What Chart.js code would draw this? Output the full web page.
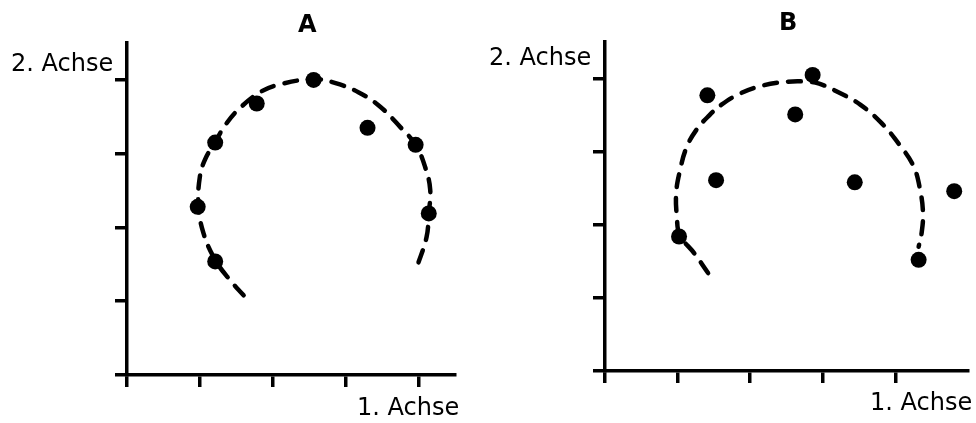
<!DOCTYPE html>
<html>
<head>
<meta charset="utf-8">
<script src="https://cdn.jsdelivr.net/npm/chart.js@4.4.0/dist/chart.umd.min.js"></script>
<style>
  html, body { margin: 0; padding: 0; background: #fff; }
  #wrap { position: relative; width: 976px; height: 423px; overflow: hidden; }
  canvas { position: absolute; top: 0; }
  .lbl { position: absolute; font-family: "DejaVu Sans", sans-serif; font-size: 24px; line-height: 24px; color: #000; white-space: nowrap; }
  .ttl { position: absolute; font-family: "DejaVu Sans", sans-serif; font-weight: bold; font-size: 24px; line-height: 24px; color: #000; }
</style>
</head>
<body>
<div id="wrap">
  <canvas id="cA" width="488" height="423" style="left:0;width:488px;height:423px"></canvas>
  <canvas id="cB" width="488" height="423" style="left:488px;width:488px;height:423px"></canvas>
  <div class="ttl" style="left:298px;top:12px">A</div>
  <div class="ttl" style="left:779px;top:10px">B</div>
  <div class="lbl" style="left:11px;top:51px">2. Achse</div>
  <div class="lbl" style="left:489px;top:45px">2. Achse</div>
  <div class="lbl" style="left:357px;top:395px">1. Achse</div>
  <div class="lbl" style="left:870px;top:390px">1. Achse</div>
</div>
<script>
// ---- data ----
const tickValues = [0, 1, 2, 3, 4];

const pointsA_x = [2.56, 1.78, 1.21, 0.97, 1.21, 3.30, 3.96, 4.14];
const pointsA_y = [4.00, 3.68, 3.15, 2.28, 1.54, 3.35, 3.12, 2.19];

const curveA_x = [1.60, 1.41, 1.21, 1.05, 0.98, 1.00, 1.07, 1.21, 1.35, 1.53, 1.82, 2.10, 2.56, 2.85, 3.18, 3.47, 3.75, 3.96, 4.09, 4.16, 4.14, 4.11, 3.98];
const curveA_y = [1.08, 1.29, 1.56, 1.92, 2.30, 2.69, 2.92, 3.16, 3.39, 3.60, 3.83, 3.94, 4.01, 3.96, 3.83, 3.64, 3.36, 3.12, 2.82, 2.51, 2.19, 1.87, 1.47];

const pointsB_x = [1.41, 2.86, 2.62, 1.53, 3.44, 4.81, 1.02, 4.32];
const pointsB_y = [3.77, 4.05, 3.51, 2.61, 2.58, 2.46, 1.84, 1.52];

const curveB_x = [1.42, 1.23, 1.03, 0.99, 0.98, 1.03, 1.12, 1.26, 1.44, 1.60, 1.83, 2.12, 2.44, 2.76, 2.95, 3.20, 3.52, 3.81, 4.06, 4.25, 4.34, 4.38, 4.36, 4.32];
const curveB_y = [1.34, 1.61, 1.86, 2.11, 2.43, 2.73, 3.05, 3.30, 3.50, 3.64, 3.78, 3.89, 3.95, 3.96, 3.93, 3.82, 3.64, 3.39, 3.09, 2.80, 2.48, 2.16, 1.88, 1.70];

const axisMaxA = { x: 4.5, y: 4.5 };
const axisMaxB = { x: 5.0, y: 4.5 };

function zip(xs, ys) { return xs.map((x, i) => ({ x: x, y: ys[i] })); }

function axis(max) {
  return {
    type: 'linear',
    min: 0,
    max: max,
    afterBuildTicks: (s) => { s.ticks = tickValues.map(v => ({ value: v })); },
    ticks: { display: false },
    grid: { drawOnChartArea: false, drawTicks: true, tickLength: 12, color: '#000', lineWidth: 3.5 },
    border: { display: true, color: '#000', width: 3.5 }
  };
}

function makeChart(id, px, py, cx, cy, max, pad) {
  new Chart(document.getElementById(id), {
    type: 'scatter',
    data: {
      datasets: [
        {
          data: zip(cx, cy),
          showLine: true,
          borderColor: '#000',
          borderWidth: 4.5,
          borderDash: [13, 11],
          borderCapStyle: 'round',
          tension: 0.4,
          pointRadius: 0,
          fill: false,
          clip: false
        },
        {
          data: zip(px, py),
          showLine: false,
          pointRadius: 8,
          pointBackgroundColor: '#000',
          pointBorderColor: '#000',
          pointBorderWidth: 0,
          clip: false
        }
      ]
    },
    options: {
      responsive: false,
      animation: false,
      devicePixelRatio: 1,
      layout: { padding: pad },
      plugins: { legend: { display: false }, tooltip: { enabled: false }, title: { display: false } },
      scales: { x: axis(max.x), y: axis(max.y) }
    }
  });
}

makeChart('cA', pointsA_x, pointsA_y, curveA_x, curveA_y, axisMaxA, { left: 115, right: 33, top: 43, bottom: 36 });
makeChart('cB', pointsB_x, pointsB_y, curveB_x, curveB_y, axisMaxB, { left: 105, right: 6, top: 42, bottom: 40 });
</script>
</body>
</html>
